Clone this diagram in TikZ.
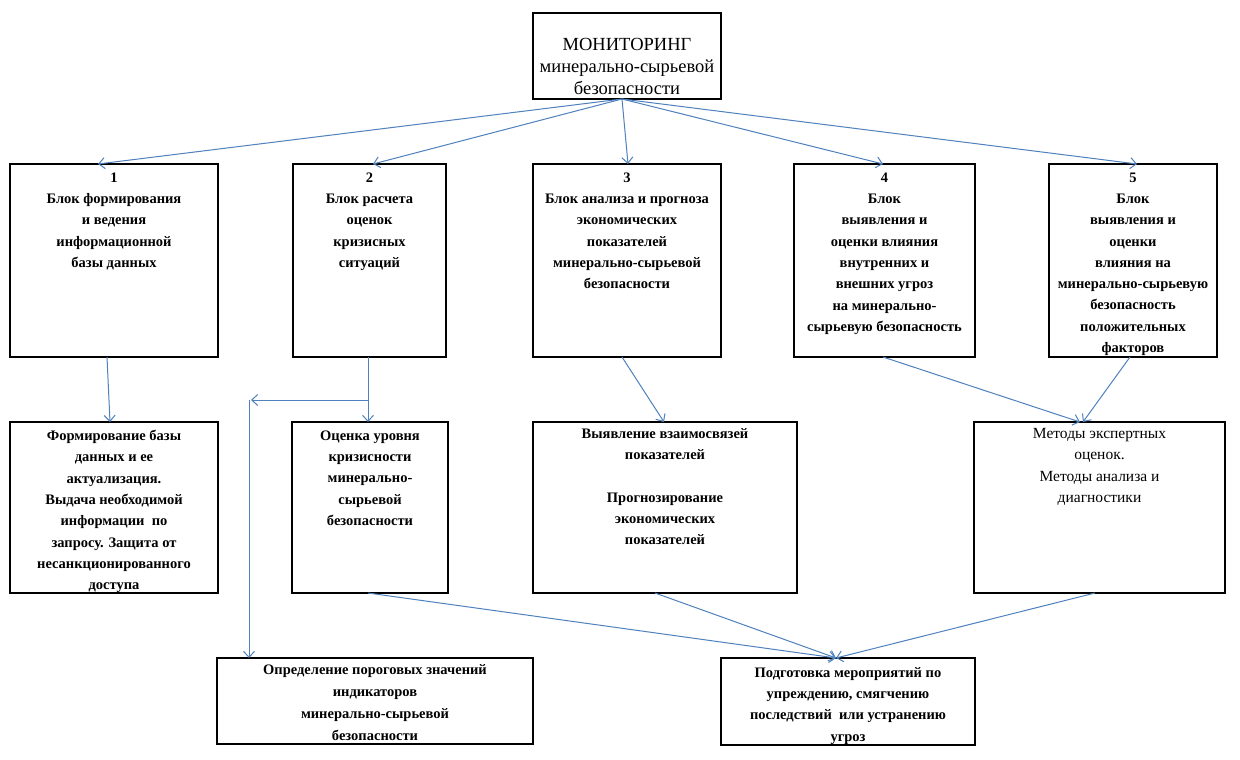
\documentclass[tikz,border=0pt]{standalone}
\usepackage{fontspec}
\setmainfont{Liberation Serif}
\usetikzlibrary{arrows.meta}
\definecolor{arrblue}{HTML}{4F81BD}
\begin{document}
\begin{tikzpicture}[x=1pt,y=-1pt,
  box/.style={draw=black, line width=2.4pt, rectangle, inner sep=0pt, outer sep=0pt},
  btxt/.style={font=\fontsize{14.5}{21.3}\selectfont\bfseries, align=center, anchor=north, inner sep=0pt},
  ntxt/.style={font=\fontsize{15.5}{21.5}\selectfont, align=center, anchor=north, inner sep=0pt},
  arr/.style={draw=arrblue, line width=1pt, -{Straight Barb[length=6pt,width=11pt]}}]
\useasboundingbox (0,0) rectangle (1240,760);
\fill[white] (0,0) rectangle (1240,760);

% boxes
\node[box, minimum width=188pt, minimum height=86pt] (top) at (627,56) {};
\node[box, minimum width=208pt, minimum height=193pt] (b1) at (114,260.5) {};
\node[box, minimum width=153pt, minimum height=193pt] (b2) at (369.5,260.5) {};
\node[box, minimum width=188pt, minimum height=193pt] (b3) at (627,260.5) {};
\node[box, minimum width=181pt, minimum height=193pt] (b4) at (884.5,260.5) {};
\node[box, minimum width=168pt, minimum height=193pt] (b5) at (1133,260.5) {};
\node[box, minimum width=208pt, minimum height=171pt] (rA) at (114,507.5) {};
\node[box, minimum width=156pt, minimum height=171pt] (rB) at (370,507.5) {};
\node[box, minimum width=264pt, minimum height=171pt] (rC) at (665,507.5) {};
\node[box, minimum width=251pt, minimum height=171pt] (rD) at (1099.5,507.5) {};
\node[box, minimum width=316pt, minimum height=86pt] (rE) at (375,701) {};
\node[box, minimum width=254pt, minimum height=87pt] (rF) at (848,701.5) {};

% texts
\node[ntxt, font=\fontsize{18.5}{22}\selectfont, anchor=center] (toptxt) at (627,66) {МОНИТОРИНГ\\минерально-сырьевой\\безопасности};
\node[btxt] (b1t) at ([yshift=-8.5pt]b1.north) {1\\Блок формирования\\и ведения\\информационной\\базы данных};
\node[btxt] (b2t) at ([yshift=-8.5pt]b2.north) {2\\Блок расчета\\оценок\\кризисных\\ситуаций};
\node[btxt] (b3t) at ([yshift=-8.5pt]b3.north) {3\\Блок анализа и прогноза\\экономических\\показателей\\минерально-сырьевой\\безопасности};
\node[btxt] (b4t) at ([yshift=-8.5pt]b4.north) {4\\Блок\\выявления и\\оценки влияния\\внутренних и\\внешних угроз\\на минерально-\\сырьевую безопасность};
\node[btxt] (b5t) at ([yshift=-8.5pt]b5.north) {5\\Блок\\выявления и\\оценки\\влияния на\\минерально-сырьевую\\безопасность\\положительных\\факторов};
\node[btxt] (rAt) at ([yshift=-8pt]rA.north) {Формирование базы\\данных и ее\\актуализация.\\Выдача необходимой\\информации~ по\\запросу. Защита от\\несанкционированного\\доступа};
\node[btxt] (rBt) at ([yshift=-8.5pt]rB.north) {Оценка уровня\\кризисности\\минерально-\\сырьевой\\безопасности};
\node[btxt] (rCt) at ([yshift=-6.5pt]rC.north) {Выявление взаимосвязей\\показателей\\[21pt]Прогнозирование\\экономических\\показателей};
\node[ntxt] (rDt) at ([yshift=-6pt]rD.north) {Методы экспертных\\оценок.\\Методы анализа и\\диагностики};
\node[btxt, font=\fontsize{14.5}{22}\selectfont\bfseries] (rEt) at ([yshift=-6.5pt]rE.north) {Определение пороговых значений\\индикаторов\\минерально-сырьевой\\безопасности};
\node[btxt] (rFt) at ([yshift=-9pt]rF.north) {Подготовка мероприятий по\\упреждению, смягчению\\последствий~ или устранению\\угроз};

% connectors
\coordinate (topo) at (622,99);
\draw[arr] (topo) -- ([xshift=-16pt]b1.north);
\draw[arr] (topo) -- ([xshift=3.5pt]b2.north);
\draw[arr] (topo) -- ([xshift=1pt]b3.north);
\draw[arr] (topo) -- ([xshift=-1.5pt]b4.north);
\draw[arr] (topo) -- ([xshift=4pt]b5.north);

\draw[arr] ([xshift=-7pt]b1.south) -- ([xshift=-4pt]rA.north);
\draw[arr] ([xshift=-1.5pt]b2.south) -- ([xshift=-2pt]rB.north);
\coordinate (br) at (368,400);
\coordinate (corner) at (249,400);
\draw[arr] (br) -- ([xshift=2pt]corner);
\draw[arr] (corner) -- (corner |- rE.north);
\draw[arr] ([xshift=-5pt]b3.south) -- ([xshift=-1pt]rC.north);
\draw[arr] ([xshift=-1.5pt]b4.south) -- ([xshift=-19.5pt]rD.north);
\draw[arr] ([xshift=-3pt]b5.south) -- ([xshift=-16.5pt]rD.north);

\draw[arr] ([xshift=-2pt]rB.south) -- ([xshift=-12pt]rF.north);
\draw[arr] ([xshift=-10pt]rC.south) -- ([xshift=-12pt]rF.north);
\draw[arr] ([xshift=-4.5pt]rD.south) -- ([xshift=-12pt]rF.north);
\end{tikzpicture}
\end{document}
